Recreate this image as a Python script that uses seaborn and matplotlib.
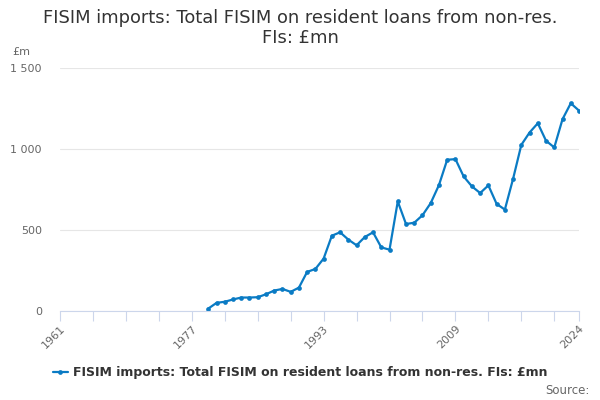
import matplotlib
matplotlib.use("Agg")
import matplotlib.pyplot as plt
import seaborn as sns
import pandas as pd
from matplotlib.ticker import FixedLocator, FuncFormatter

years = list(range(1979, 2025))
values = [15, 50, 57, 71, 83, 83, 85, 103, 126, 136, 118, 144, 241, 259, 323,
          464, 485, 440, 405, 456, 485, 392, 378, 675, 536, 544, 590, 665, 776,
          932, 936, 829, 768, 727, 774, 660, 625, 815, 1024, 1100, 1157, 1049,
          1008, 1182, 1280, 1235]
major_ticks = [1961, 1977, 1993, 2009, 2024]
minor_ticks = list(range(1961, 2022, 4)) + [2024]
y_ticks = [0, 500, 1000, 1500]
title = "FISIM imports: Total FISIM on resident loans from non-res.\nFIs: £mn"
series_name = "FISIM imports: Total FISIM on resident loans from non-res. FIs: £mn"

sns.set_theme(style="white")
plt.rcParams['font.family'] = ['DejaVu Sans']

df = pd.DataFrame({"year": years, "value": values})

fig = plt.figure(figsize=(6, 4), dpi=100)
ax = fig.add_axes([0.1, 0.2225, 0.865, 0.6085])
color = "#0a7bc4"
sns.lineplot(data=df, x="year", y="value", ax=ax, color=color, linewidth=1.6,
             marker="o", markersize=3.4, markeredgewidth=0, label=series_name,
             legend=False)

ax.set_xlim(1961, 2024)
ax.set_ylim(0, 1500)
ax.set_xlabel("")
ax.set_ylabel("")

ax.yaxis.set_major_locator(FixedLocator(y_ticks))
ax.yaxis.set_major_formatter(FuncFormatter(lambda v, p: f"{int(v):,}".replace(",", " ")))
ax.grid(axis="y", color="#e6e6e6", linewidth=0.8)
ax.set_axisbelow(True)

ax.xaxis.set_major_locator(FixedLocator(major_ticks))
ax.xaxis.set_minor_locator(FixedLocator(minor_ticks))
ax.tick_params(axis="x", which="both", length=7, color="#ccd6eb", width=0.8,
               direction="out", bottom=True, labelsize=8, labelcolor="#666666", pad=2)
ax.tick_params(axis="y", length=0, labelsize=8, labelcolor="#666666", pad=13)
for lab in ax.get_xticklabels():
    lab.set_rotation(45)
    lab.set_ha("right")
    lab.set_rotation_mode("anchor")

for s in ["top", "right", "left"]:
    ax.spines[s].set_visible(False)
ax.spines["bottom"].set_color("#ccd6eb")
ax.spines["bottom"].set_linewidth(0.8)

fig.text(0.5, 0.93, title, ha="center", va="center", fontsize=12.9,
         color="#333333", linespacing=1.2)
fig.text(0.02, 0.87, "£m", ha="left", va="center", fontsize=8, color="#666666")

handles, labels = ax.get_legend_handles_labels()
leg = fig.legend(handles, labels, loc="center", bbox_to_anchor=(0.5, 0.068),
                 frameon=False, prop={"size": 9, "weight": "bold"},
                 handlelength=1.2, handletextpad=0.4)
for t in leg.get_texts():
    t.set_color("#333333")
fig.text(0.983, 0.025, "Source:", ha="right", va="center", fontsize=8.5,
         color="#666666")

fig.savefig("out.png", dpi=100)
